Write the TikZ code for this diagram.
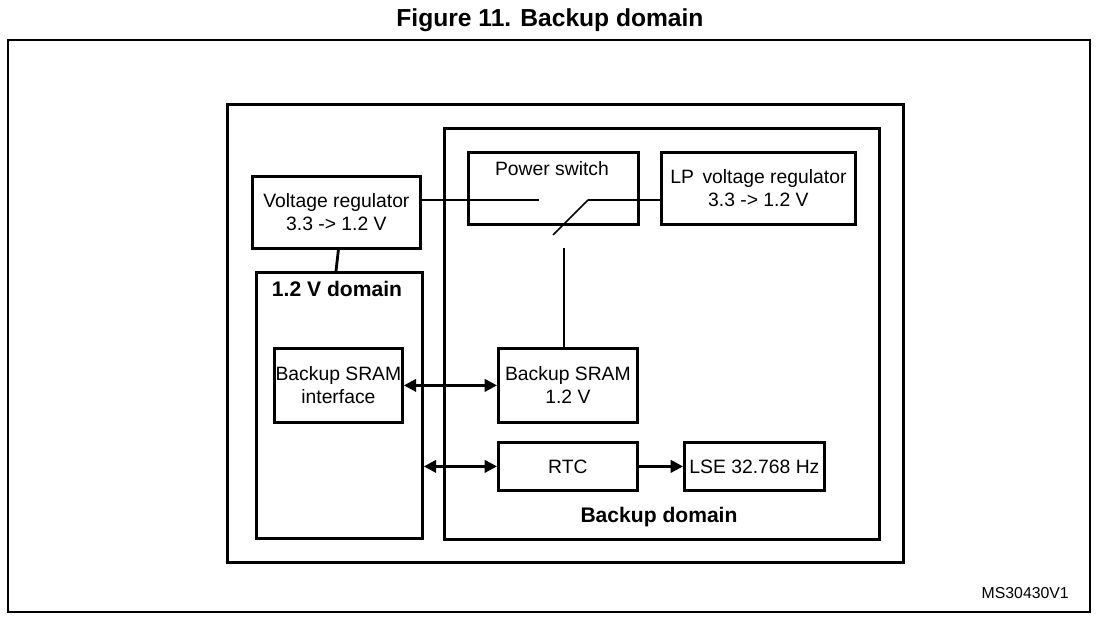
\documentclass[tikz,border=0pt]{standalone}
\usepackage{fontspec}
\setmainfont{Liberation Sans}
\usetikzlibrary{arrows.meta}
\begin{document}
\begin{tikzpicture}[x=0.02cm,y=-0.02cm,line width=1.6pt,
  box/.style={draw,rectangle,anchor=north west,inner sep=0pt,font=\fontsize{11}{13}\selectfont,align=center},
  lbl/.style={font=\bfseries\fontsize{12}{14}\selectfont},
  arr/.style={-{Triangle[length=7pt,width=7pt]}},
  darr/.style={{Triangle[length=7pt,width=7pt]}-{Triangle[length=7pt,width=7pt]}},
  thin line/.style={line width=1pt}]
\useasboundingbox (0,0) rectangle (1100,624);
\node[lbl,font=\bfseries\fontsize{14}{16}\selectfont] (title) at (550,20) {Figure 11. Backup domain};
\draw[thin line] (8,40) rectangle (1090,612);
\node[anchor=south east,font=\fontsize{9}{11}\selectfont] (ms) at (1076,606) {MS30430V1};
% frames
\node[box,minimum width=676*0.02cm,minimum height=458*0.02cm] (inner) at (226,103) {};
\node[box,minimum width=435*0.02cm,minimum height=411*0.02cm] (bkd) at (443,127) {};
\node[lbl] (bkdl) at (659,517) {Backup domain};
\node[box,minimum width=166*0.02cm,minimum height=266*0.02cm] (dom) at (255,271) {};
\node[lbl] (doml) at (337,289) {1.2 V domain};
% blocks
\node[box,minimum width=170*0.02cm,minimum height=72*0.02cm] (ps) at (467,151) {};
\node[font=\fontsize{11}{13}\selectfont] (psl) at (552,169) {Power switch};
\node[box,minimum width=194*0.02cm,minimum height=72*0.02cm] (lp) at (660,151) {LP\, voltage regulator\\3.3 -> 1.2 V};
\node[box,minimum width=168*0.02cm,minimum height=72*0.02cm] (vr) at (251,175) {Voltage regulator\\3.3 -> 1.2 V};
\node[box,minimum width=128*0.02cm,minimum height=74*0.02cm] (sif) at (273,347) {Backup SRAM\\interface};
\node[box,minimum width=139*0.02cm,minimum height=74*0.02cm] (sram) at (497,347) {Backup SRAM\\1.2 V};
\node[box,minimum width=139*0.02cm,minimum height=48*0.02cm] (rtc) at (497,441) {RTC};
\node[box,minimum width=140*0.02cm,minimum height=48*0.02cm] (lse) at (683,441) {LSE 32.768 Hz};
% switch
\coordinate (swa) at (539,200);
\coordinate (swb) at (588,200);
\coordinate (swc) at (553,235);
\coordinate (swd) at (564,248);
\draw (vr.east |- swa) -- (swa);
\draw (swb) -- (lp.west |- swb);
\draw[thin line] (swc) -- (swb);
\draw (swd) -- (sram.north -| swd);
\draw (vr.south -| dom.north) ++(-1,0) -- (dom.north -| 336,0);
% connections
\draw[darr] (sif.east) -- (sram.west);
\draw[darr] (dom.east |- rtc.west) -- (rtc.west);
\draw[arr] (rtc.east) -- (lse.west);
\end{tikzpicture}
\end{document}
